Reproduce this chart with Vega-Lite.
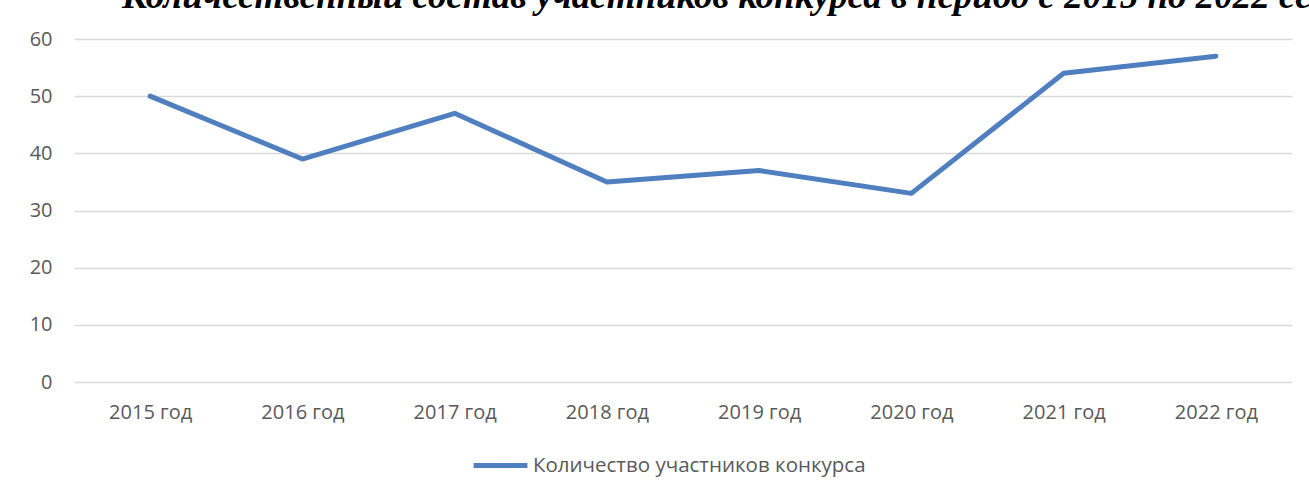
{
  "$schema": "https://vega.github.io/schema/vega-lite/v6.json",
  "autosize": {"type": "none"},
  "width": 1218,
  "height": 343,
  "padding": {"left": 74, "top": 39, "right": 17, "bottom": 113},
  "background": "white",
  "title": {
    "text": "Количественный состав участников конкурса в период с 2015 по 2022 сезон",
    "anchor": "start",
    "frame": "group",
    "orient": "top",
    "baseline": "alphabetic",
    "offset": -16,
    "dx": 48,
    "font": "Liberation Serif",
    "fontSize": 37,
    "fontWeight": "bold",
    "fontStyle": "italic",
    "color": "#000000",
    "limit": 3000
  },
  "data": {
    "values": [
      {"year": "2015 год", "value": 50, "series": "Количество участников конкурса"},
      {"year": "2016 год", "value": 39, "series": "Количество участников конкурса"},
      {"year": "2017 год", "value": 47, "series": "Количество участников конкурса"},
      {"year": "2018 год", "value": 35, "series": "Количество участников конкурса"},
      {"year": "2019 год", "value": 37, "series": "Количество участников конкурса"},
      {"year": "2020 год", "value": 33, "series": "Количество участников конкурса"},
      {"year": "2021 год", "value": 54, "series": "Количество участников конкурса"},
      {"year": "2022 год", "value": 57, "series": "Количество участников конкурса"}
    ]
  },
  "mark": {"type": "line", "strokeWidth": 5, "strokeCap": "round", "strokeJoin": "round"},
  "encoding": {
    "x": {
      "field": "year",
      "type": "ordinal",
      "sort": null,
      "scale": {"type": "point", "padding": 0.5},
      "axis": {
        "title": null,
        "labelAngle": 0,
        "domain": false,
        "ticks": false,
        "grid": false,
        "labelPadding": 20,
        "labelFont": "Open Sans",
        "labelFontSize": 20,
        "labelColor": "#595959"
      }
    },
    "y": {
      "field": "value",
      "type": "quantitative",
      "scale": {"domain": [0, 60], "nice": false, "zero": true},
      "axis": {
        "title": null,
        "values": [0, 10, 20, 30, 40, 50, 60],
        "domain": false,
        "ticks": false,
        "grid": true,
        "gridColor": "#d9d9d9",
        "gridWidth": 1.3,
        "labelPadding": 22,
        "labelFont": "Open Sans",
        "labelFontSize": 20,
        "labelColor": "#595959"
      }
    },
    "color": {
      "field": "series",
      "type": "nominal",
      "scale": {"range": ["#4f7fbf"]},
      "legend": {
        "title": " ",
        "titleOrient": "right",
        "titlePadding": 30,
        "orient": "bottom",
        "direction": "horizontal",
        "offset": 14,
        "symbolType": "stroke",
        "symbolSize": 2900,
        "symbolStrokeWidth": 5,
        "labelFont": "Open Sans",
        "labelFontSize": 20.5,
        "labelColor": "#595959",
        "labelOffset": 3,
        "labelLimit": 600
      }
    }
  },
  "config": {
    "view": {"stroke": null},
    "legend": {"layout": {"bottom": {"anchor": "middle"}}}
  }
}
